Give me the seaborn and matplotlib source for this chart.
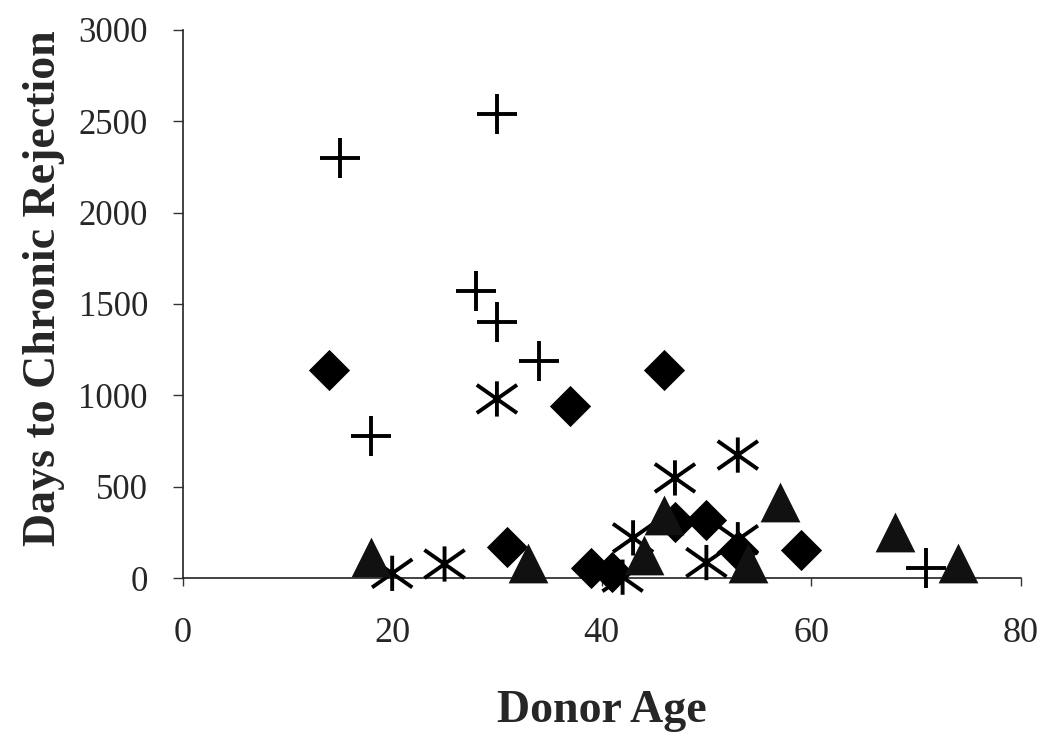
import numpy as np
import pandas as pd
import seaborn as sns
import matplotlib.pyplot as plt
from matplotlib.path import Path

# Donor age vs days to chronic rejection, four marker groups (no legend in source)
plus_age = [15, 30, 28, 30, 34, 18, 71]
plus_days = [2300, 2540, 1570, 1400, 1190, 780, 55]

diamond_age = [14, 37, 46, 31, 39, 41, 47, 50, 59, 53]
diamond_days = [1140, 940, 1140, 170, 55, 35, 305, 320, 155, 150]

star_age = [30, 47, 53, 20, 25, 43, 42, 50, 53]
star_days = [980, 548, 673, 26, 77, 220, 5, 85, 210]

tri_age = [18, 33, 44, 46, 57, 68, 74, 54]
tri_days = [117, 80, 125, 345, 416, 254, 80, 80]

x_ticks = [0, 20, 40, 60, 80]
y_ticks = [0, 500, 1000, 1500, 2000, 2500, 3000]

sns.set_theme(style="white")
plt.rcParams['font.family'] = ['Liberation Serif', 'DejaVu Serif']

# asterisk = vertical bar plus an X
asterisk = Path(
    [(0, -0.875), (0, 0.875), (-1, -0.7), (1, 0.7), (-1, 0.7), (1, -0.7)],
    [Path.MOVETO, Path.LINETO, Path.MOVETO, Path.LINETO, Path.MOVETO, Path.LINETO],
)

fig = plt.figure(figsize=(10.5, 7.44), dpi=100)
ax = fig.add_axes([0.174, 0.223, 0.798, 0.737])

sns.scatterplot(x=plus_age, y=plus_days, marker="+", s=820, color="black",
                linewidth=2.8, ax=ax, clip_on=False, zorder=3)
sns.scatterplot(x=diamond_age, y=diamond_days, marker="D", s=440, color="black",
                edgecolor="black", linewidth=0, ax=ax, clip_on=False, zorder=3)
sns.scatterplot(x=star_age, y=star_days, marker=asterisk, s=840, facecolor="none",
                edgecolor="black", linewidth=2.8, ax=ax, clip_on=False, zorder=3)
sns.scatterplot(x=tri_age, y=tri_days, marker="^", s=820, color="#111111",
                edgecolor="#111111", linewidth=0, ax=ax, clip_on=False, zorder=3)

ax.set_xlim(0, 80)
ax.set_ylim(0, 3000)
ax.set_xticks(x_ticks)
ax.set_yticks(y_ticks)
ax.set_xticklabels([str(t) for t in x_ticks])
ax.set_yticklabels([str(t) for t in y_ticks])

sns.despine(ax=ax)
for side in ["left", "bottom"]:
    ax.spines[side].set_color("#222222")
    ax.spines[side].set_linewidth(1.2)

ax.tick_params(axis="y", direction="out", length=7, width=1, color="#333333",
               labelsize=25, pad=18, left=True)
ax.tick_params(axis="x", direction="out", length=6, width=1, color="#333333",
               labelsize=26, pad=22, bottom=True)

ax.set_xlabel("Donor Age", fontsize=33, fontweight="bold", labelpad=29)
ax.set_ylabel("Days to Chronic Rejection", fontsize=33, fontweight="bold")
ax.yaxis.set_label_coords(-0.141, 0.528)

fig.savefig("out.png", dpi=100)
